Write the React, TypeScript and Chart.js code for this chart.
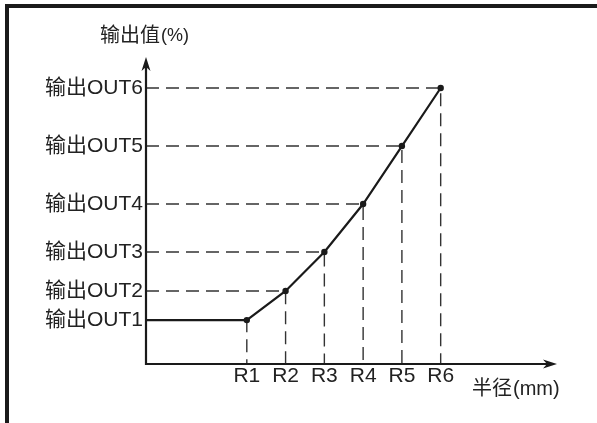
import React, { useEffect, useRef } from "react";
import { Chart, registerables } from "chart.js";

Chart.register(...registerables);

// ---- data ----
const radiusLabels = ["R1", "R2", "R3", "R4", "R5", "R6"];
const radiusValues = [1, 2, 3, 4, 5, 6];
const outputLabels = ["输出OUT1", "输出OUT2", "输出OUT3", "输出OUT4", "输出OUT5", "输出OUT6"];
const outputValues = [14.3, 23.8, 36.5, 52.1, 71.0, 89.9];
const xMin = -1.6;
const xMax = 9;
const yMin = 0;
const yMax = 100;
const yTitle = "输出值";
const yUnit = "(%)";
const xTitle = "半径";
const xUnit = "(mm)";

const FONT = '"Liberation Sans", Arial, "Noto Sans CJK SC", sans-serif';
const INK = "#1a1a1a";

const axesPlugin = {
  id: "arrowAxes",
  afterDatasetsDraw(chart: any) {
    const { ctx, chartArea } = chart;
    const { left, right, top, bottom } = chartArea;
    ctx.save();
    ctx.strokeStyle = INK;
    ctx.fillStyle = INK;
    ctx.lineWidth = 2.2;
    ctx.setLineDash([]);
    ctx.beginPath();
    ctx.moveTo(left - 1, bottom);
    ctx.lineTo(right - 6, bottom);
    ctx.moveTo(left, bottom + 1);
    ctx.lineTo(left, top + 6);
    ctx.stroke();
    // x arrow
    ctx.beginPath();
    ctx.moveTo(right, bottom);
    ctx.lineTo(right - 14, bottom - 4.5);
    ctx.lineTo(right - 10, bottom);
    ctx.lineTo(right - 14, bottom + 4.5);
    ctx.closePath();
    ctx.fill();
    // y arrow
    ctx.beginPath();
    ctx.moveTo(left, top);
    ctx.lineTo(left - 4.5, top + 14);
    ctx.lineTo(left, top + 10);
    ctx.lineTo(left + 4.5, top + 14);
    ctx.closePath();
    ctx.fill();

    // titles
    ctx.fillStyle = "#222";
    ctx.textBaseline = "middle";
    ctx.textAlign = "left";
    ctx.font = `20px ${FONT}`;
    const yx = left - 46;
    const yy = top - 21;
    ctx.fillText(yTitle, yx, yy);
    const w1 = ctx.measureText(yTitle).width;
    ctx.font = `18px ${FONT}`;
    ctx.fillText(yUnit, yx + w1 + 1, yy);

    ctx.font = `20px ${FONT}`;
    const xx = right - 85;
    const xy = bottom + 25;
    ctx.fillText(xTitle, xx, xy);
    const w2 = ctx.measureText(xTitle).width;
    ctx.font = `20px ${FONT}`;
    ctx.fillText(xUnit, xx + w2 + 1, xy);
    ctx.restore();
  },
};

export default function App() {
  const ref = useRef<HTMLCanvasElement>(null);

  useEffect(() => {
    if (!ref.current) return;
    const mainData = [{ x: xMin, y: outputValues[0] }].concat(
      radiusValues.map((r, i) => ({ x: r, y: outputValues[i] }))
    );
    const dropSets = radiusValues.map((r, i) => ({
      data: [
        { x: xMin, y: outputValues[i] },
        { x: r, y: outputValues[i] },
        { x: r, y: yMin },
      ],
      borderColor: "#333",
      borderWidth: 1.4,
      borderDash: [13, 7],
      pointRadius: 0,
      fill: false,
      tension: 0,
      order: 2,
      clip: false as any,
    }));
    const chart = new Chart(ref.current, {
      type: "line",
      data: {
        datasets: [
          {
            data: mainData,
            borderColor: INK,
            backgroundColor: INK,
            borderWidth: 2.2,
            pointRadius: mainData.map((_, i) => (i === 0 ? 0 : 3.2)),
            pointBackgroundColor: INK,
            pointBorderWidth: 0,
            fill: false,
            tension: 0,
            order: 0,
            clip: false as any,
          },
          ...dropSets,
        ] as any,
      },
      options: {
        animation: false,
        responsive: false,
        devicePixelRatio: 1,
        layout: { padding: { top: 57, right: 40, left: 0, bottom: 0 } },
        plugins: {
          legend: { display: false },
          tooltip: { enabled: false },
        },
        events: [],
        scales: {
          x: {
            type: "linear",
            min: xMin,
            max: xMax,
            border: { display: false },
            grid: { display: false, drawTicks: false },
            afterFit(scale: any) {
              scale.height = 423 - 364;
            },
            afterBuildTicks(scale: any) {
              scale.ticks = radiusValues.map((v) => ({ value: v }));
            },
            ticks: {
              autoSkip: false,
              maxRotation: 0,
              padding: 0,
              color: "#222",
              font: { family: FONT, size: 21 },
              callback: (_v: any, i: number) => radiusLabels[i],
            },
          },
          y: {
            type: "linear",
            min: yMin,
            max: yMax,
            border: { display: false },
            grid: { display: false, drawTicks: false },
            afterFit(scale: any) {
              scale.width = 146;
            },
            afterBuildTicks(scale: any) {
              scale.ticks = outputValues.map((v) => ({ value: v }));
            },
            ticks: {
              autoSkip: false,
              padding: 3,
              color: "#222",
              font: { family: FONT, size: 21 },
              callback: (_v: any, i: number) => outputLabels[i],
            },
          },
        },
      } as any,
      plugins: [axesPlugin],
    });
    return () => chart.destroy();
  }, []);

  return (
    <div
      style={{
        position: "fixed",
        left: 0,
        top: 0,
        width: 597,
        height: 423,
        background: "#fff",
        overflow: "hidden",
      }}
    >
      <div
        style={{
          position: "absolute",
          left: 5,
          top: 4,
          width: 620,
          height: 440,
          borderTop: `4px solid ${INK}`,
          borderLeft: `4px solid ${INK}`,
          boxSizing: "border-box",
        }}
      />
      <canvas
        ref={ref}
        width={597}
        height={423}
        style={{ position: "absolute", left: 0, top: 0, width: 597, height: 423 }}
      />
    </div>
  );
}
